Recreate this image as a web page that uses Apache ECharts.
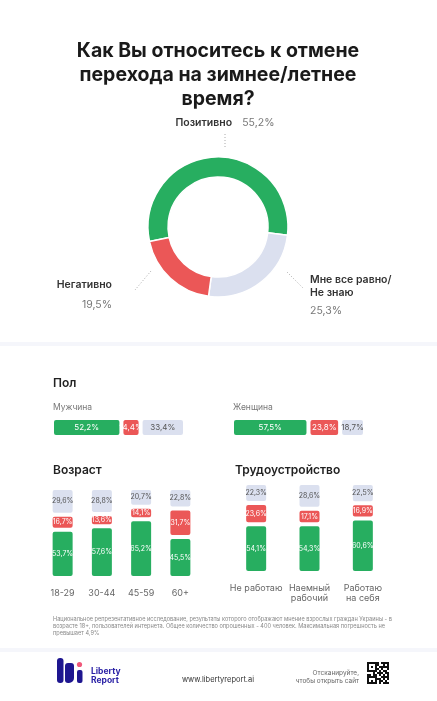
<!DOCTYPE html>
<html>
<head>
<meta charset="utf-8">
<script src="https://cdn.jsdelivr.net/npm/echarts@6/dist/echarts.min.js"></script>
<style>
  html, body { margin: 0; padding: 0; background: #fff; }
  #chart { width: 437px; height: 701px; }
</style>
</head>
<body>
<div id="chart"></div>
<script>
// --- data ---
const answers = ['Позитивно', 'Мне все равно/Не знаю', 'Негативно']
const totalValues = [55.2, 25.3, 19.5]

const genderGroups = ['Мужчина', 'Женщина']
const malePart = [52.2, 14.4, 33.4]    // positive, negative, neutral
const femalePart = [57.5, 23.8, 18.7]

const ageGroups = ['18-29', '30-44', '45-59', '60+']
const agePositive = [53.7, 57.6, 65.2, 45.5]
const ageNegative = [16.7, 13.6, 14.1, 31.7]
const ageNeutral = [29.6, 28.8, 20.7, 22.8]

const jobGroups = ['Не работаю', 'Наемный\nрабочий', 'Работаю\nна себя']
const jobPositive = [54.1, 54.3, 60.6]
const jobNegative = [23.6, 17.1, 16.9]
const jobNeutral = [22.3, 28.6, 22.5]

const GREEN = '#27ae60'
const RED = '#eb5757'
const GRAY = '#dbe0ef'
const FONT = 'Inter, "Noto Sans", sans-serif'

const pct = (v) => v.toFixed(1).replace('.', ',') + '%'

const chart = echarts.init(document.getElementById('chart'))

function seg(name, axis, stack, values, color, textColor, size, fs) {
  return {
    name,
    type: 'bar',
    stack,
    xAxisIndex: axis,
    yAxisIndex: axis,
    barWidth: size,
    data: values,
    itemStyle: { color, borderColor: '#fff', borderWidth: 2, borderRadius: 3 },
    label: {
      show: true,
      position: 'inside',
      color: textColor,
      fontFamily: FONT,
      fontSize: fs,
      formatter: (p) => pct(p.value),
    },
    silent: true,
  }
}

// label placement for the donut
const pieLabelPos = [
  { x: 225, y: 123, align: 'center', verticalAlign: 'middle', line: [[225, 147], [225, 134]] },
  { x: 310, y: 273, align: 'left', verticalAlign: 'top', line: [[287, 272], [303, 288]] },
  { x: 112, y: 275, align: 'right', verticalAlign: 'top', line: [[151, 271], [135, 290]] },
]

// QR decoration
const qr = [
  '11111101111',
  '10001100101',
  '10101011111',
  '10001101001',
  '11111010110',
  '00010111011',
  '11011010101',
  '11111001111',
  '10001110101',
  '10101011010',
  '11111010111',
]
const qrRects = []
qr.forEach((row, r) => {
  row.split('').forEach((c, k) => {
    if (c === '1') qrRects.push({ type: 'rect', shape: { x: 367 + k * 2, y: 662 + r * 2, width: 2, height: 2 }, style: { fill: '#111' } })
  })
})

const txt = (x, y, text, o) => ({
  type: 'text', x, y,
  style: Object.assign({ text, fontFamily: FONT, fill: '#222', fontSize: 9, textVerticalAlign: 'middle' }, o),
})

const catAxis = (gridIndex, data) => ({
  gridIndex, type: 'category', data,
  axisLine: { show: false }, axisTick: { show: false },
  axisLabel: { interval: 0, color: '#666', fontFamily: FONT, fontSize: 9, margin: 10, lineHeight: 10 },
})

const option = {
  backgroundColor: '#fff',
  animation: false,
  grid: [
    { left: 52, top: 418, width: 133, height: 19 },
    { left: 232, top: 418, width: 133, height: 19 },
    { left: 43, top: 488, width: 157, height: 90 },
    { left: 229.5, top: 483, width: 160, height: 90 },
  ],
  xAxis: [
    { gridIndex: 0, type: 'value', min: 0, max: 100, show: false },
    { gridIndex: 1, type: 'value', min: 0, max: 100, show: false },
    catAxis(2, ageGroups),
    catAxis(3, jobGroups),
  ],
  yAxis: [
    { gridIndex: 0, type: 'category', data: [genderGroups[0]], show: false },
    { gridIndex: 1, type: 'category', data: [genderGroups[1]], show: false },
    { gridIndex: 2, type: 'value', min: 0, max: 100, show: false },
    { gridIndex: 3, type: 'value', min: 0, max: 100, show: false },
  ],
  series: [
    {
      type: 'pie',
      center: [218, 227],
      radius: [50, 70],
      startAngle: 192,
      clockwise: true,
      avoidLabelOverlap: false,
      silent: true,
      itemStyle: { borderColor: '#fff', borderWidth: 1.5 },
      label: {
        show: true,
        position: 'outside',
        fontFamily: FONT,
        formatter: (p) => {
          if (p.dataIndex === 0) return '{n|' + p.name + '}   {v|' + pct(p.value) + '}'
          if (p.dataIndex === 1) return '{a|Мне все равно/}\n{a|Не знаю}\n{w|' + pct(p.value) + '}'
          return '{b|' + p.name + '}\n{x|' + pct(p.value) + '}'
        },
        rich: {
          n: { fontFamily: FONT, fontSize: 10.5, fontWeight: 600, color: '#333' },
          v: { fontFamily: FONT, fontSize: 10.5, color: '#777' },
          a: { fontFamily: FONT, fontSize: 10.5, fontWeight: 600, color: '#333', lineHeight: 13 },
          w: { fontFamily: FONT, fontSize: 10.5, color: '#777', lineHeight: 23 },
          b: { fontFamily: FONT, fontSize: 10.5, fontWeight: 600, color: '#333', lineHeight: 20, align: 'right' },
          x: { fontFamily: FONT, fontSize: 10.5, color: '#777', lineHeight: 20, align: 'right' },
        },
      },
      labelLine: { show: true, lineStyle: { color: '#aaa', width: 1, type: [1, 2] } },
      labelLayout: (p) => {
        const c = pieLabelPos[p.dataIndex]
        return { x: c.x, y: c.y, align: c.align, verticalAlign: c.verticalAlign, labelLinePoints: c.line }
      },
      data: answers.map((name, i) => ({ name, value: totalValues[i], itemStyle: { color: [GREEN, GRAY, RED][i] } })),
    },
    seg('Позитивно', 0, 'm', [malePart[0]], GREEN, '#fff', 19, 8),
    seg('Негативно', 0, 'm', [malePart[1]], RED, '#fff', 19, 8),
    seg('Мне все равно', 0, 'm', [malePart[2]], GRAY, '#555', 19, 8),
    seg('Позитивно', 1, 'f', [femalePart[0]], GREEN, '#fff', 19, 8),
    seg('Негативно', 1, 'f', [femalePart[1]], RED, '#fff', 19, 8),
    seg('Мне все равно', 1, 'f', [femalePart[2]], GRAY, '#555', 19, 8),
    seg('Позитивно', 2, 'a', agePositive, GREEN, '#fff', 24, 7),
    seg('Негативно', 2, 'a', ageNegative, RED, '#fff', 24, 7),
    seg('Мне все равно', 2, 'a', ageNeutral, GRAY, '#555', 24, 7),
    seg('Позитивно', 3, 'j', jobPositive, GREEN, '#fff', 24, 7),
    seg('Негативно', 3, 'j', jobNegative, RED, '#fff', 24, 7),
    seg('Мне все равно', 3, 'j', jobNeutral, GRAY, '#555', 24, 7),
  ],
  graphic: [
    // title
    txt(218, 51, 'Как Вы относитесь к отмене', { fontSize: 19.5, fontWeight: 700, fill: '#1a1a1a', textAlign: 'center' }),
    txt(218, 75, 'перехода на зимнее/летнее', { fontSize: 19.5, fontWeight: 700, fill: '#1a1a1a', textAlign: 'center' }),
    txt(218, 99, 'время?', { fontSize: 19.5, fontWeight: 700, fill: '#1a1a1a', textAlign: 'center' }),
    // separators
    { type: 'rect', shape: { x: 0, y: 342, width: 437, height: 4 }, style: { fill: '#f5f6fb' } },
    { type: 'rect', shape: { x: 0, y: 648, width: 437, height: 4 }, style: { fill: '#f5f6fb' } },
    // section headings
    txt(53, 383, 'Пол', { fontSize: 12, fontWeight: 600 }),
    txt(53, 407, genderGroups[0], { fontSize: 8.5, fill: '#777' }),
    txt(233, 407, genderGroups[1], { fontSize: 8.5, fill: '#777' }),
    txt(53, 470, 'Возраст', { fontSize: 12, fontWeight: 600 }),
    txt(235, 470, 'Трудоустройство', { fontSize: 12, fontWeight: 600 }),
    // footnote
    txt(53, 619, 'Национальное репрезентативное исследование, результаты которого отображают мнение взрослых граждан Украины - в', { fontSize: 5.6, fill: '#888' }),
    txt(53, 626, 'возрасте 18+, пользователей интернета. Общее количество опрошенных - 400 человек. Максимальная погрешность не', { fontSize: 5.6, fill: '#888' }),
    txt(53, 633, 'превышает 4,9%', { fontSize: 5.6, fill: '#888' }),
    // logo
    { type: 'rect', shape: { x: 57, y: 658, width: 6.5, height: 25, r: 3 }, style: { fill: '#1e1690' } },
    { type: 'rect', shape: { x: 65, y: 663, width: 9, height: 20, r: [3, 3, 5, 3] }, style: { fill: '#1e1690' } },
    { type: 'circle', shape: { cx: 79.5, cy: 664.5, r: 2.6 }, style: { fill: '#f0587a' } },
    { type: 'rect', shape: { x: 77, y: 670, width: 5.5, height: 13, r: 2 }, style: { fill: '#1e1690' } },
    txt(91, 671, 'Liberty', { fontSize: 8.5, fontWeight: 700, fill: '#2b22a6' }),
    txt(91, 680, 'Report', { fontSize: 8.5, fontWeight: 700, fill: '#2b22a6' }),
    txt(218, 680, 'www.libertyreport.ai', { fontSize: 7.5, fill: '#333', textAlign: 'center' }),
    txt(359, 673, 'Отсканируйте,', { fontSize: 6.5, fill: '#666', textAlign: 'right' }),
    txt(359, 681, 'чтобы открыть сайт', { fontSize: 6.5, fill: '#666', textAlign: 'right' }),
  ].concat(qrRects),
}

chart.setOption(option)
</script>
</body>
</html>
